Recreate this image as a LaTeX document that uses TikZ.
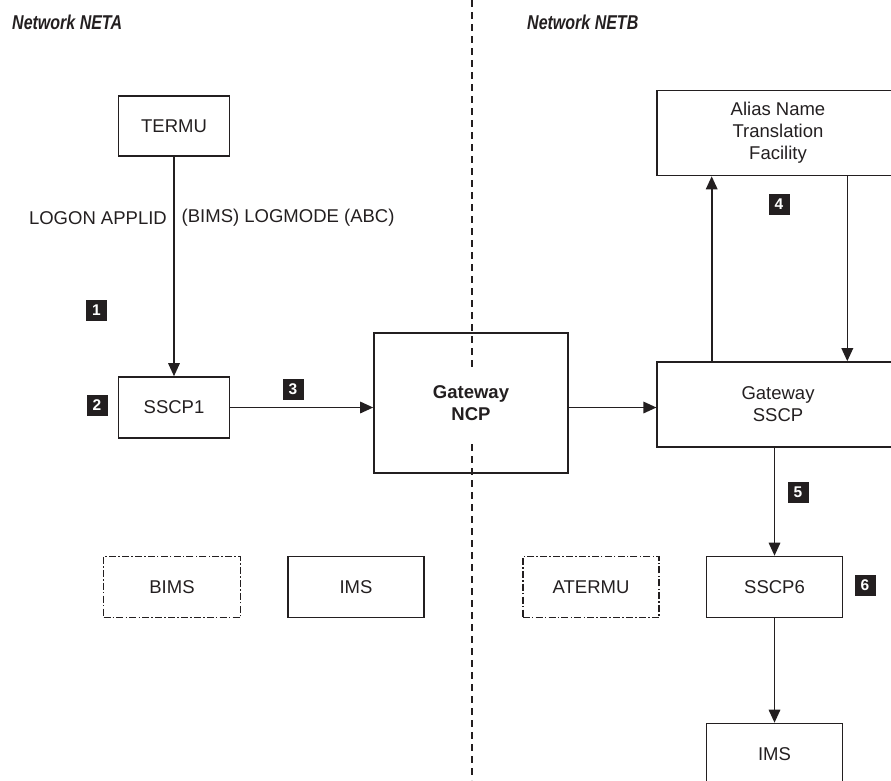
\documentclass[tikz,border=0pt]{standalone}
\usepackage{fontspec}
\setmainfont{Liberation Sans}
\newfontfamily\titlefont[FakeStretch=0.8]{Liberation Sans}
\usetikzlibrary{arrows.meta,calc}
\definecolor{ink}{HTML}{231F20}
\begin{document}
\begin{tikzpicture}[x=1pt,y=-1pt,
  every node/.style={text=ink},
  box/.style={draw=ink, line width=1.6pt, inner sep=0pt, font=\fontsize{18.5}{22}\selectfont, align=center},
  ddbox/.style={box, dash pattern=on 7pt off 2.2pt on 1.5pt off 2.2pt},
  arr/.style={draw=ink, line width=1.6pt, -{Triangle[length=13pt,width=11.5pt]}},
  badge/.style={fill=ink, text=white, minimum width=21pt, minimum height=21pt, inner sep=0pt, font=\fontsize{15.5}{16}\selectfont\bfseries},
  lbl/.style={font=\fontsize{18.5}{22}\selectfont, inner sep=0pt},
  ttl/.style={font=\titlefont\fontsize{20}{22}\selectfont\bfseries\itshape, inner sep=0pt, anchor=west},
  divider/.style={draw=ink, line width=1.3pt, dash pattern=on 7pt off 5pt}
]
\useasboundingbox (0,0) rectangle (891,780);
\clip (0,0) rectangle (891,780);

% divider
\coordinate (divtop) at (472,0);
\coordinate (divbot) at (472,780);
\draw[divider] (divtop) -- (divbot);

% titles
\node[ttl] (neta) at (12,22) {Network NETA};
\node[ttl] (netb) at (527,22) {Network NETB};

% boxes
\node[box, minimum width=111pt, minimum height=60pt] (termu) at (174,126) {TERMU};
\node[box, minimum width=111pt, minimum height=61pt] (sscp1) at (174,407.5) {SSCP1};
\node[box, minimum width=194pt, minimum height=140pt] (ncp) at (471,403) {};
\node[fill=white, inner xsep=4pt, inner ysep=0pt, minimum height=71pt, align=center,
      font=\fontsize{18.5}{22}\selectfont\bfseries] (ncplabel) at (471,403) {Gateway\\NCP};
\node[box, minimum width=241.5pt, minimum height=85pt] (gsscp) at (778,404.5) {Gateway\\SSCP};
\node[box, minimum width=241.5pt, minimum height=85pt] (alias) at (778,133) {Alias Name\\Translation\\Facility};
\node[box, minimum width=136pt, minimum height=61pt] (sscp6) at (774.5,587) {SSCP6};
\node[box, minimum width=136pt, minimum height=61pt] (imsb) at (774.5,754) {IMS};
\node[ddbox, minimum width=137pt, minimum height=61pt] (bims) at (172,587) {BIMS};
\node[box, minimum width=136pt, minimum height=61pt] (imsa) at (356,587) {IMS};
\node[ddbox, minimum width=136.5pt, minimum height=61pt] (atermu) at (591,587) {ATERMU};

% label on TERMU arrow
\node[lbl, anchor=east] (logon1) at (167,218) {LOGON APPLID};
\node[lbl, anchor=west] (logon2) at (181.5,218) {(BIMS) LOGMODE (ABC)};

% badges
\node[badge] (b1) at (96.5,310.5) {1};
\node[badge] (b2) at (97,405.5) {2};
\node[badge] (b3) at (293,389.5) {3};
\node[badge] (b4) at (779,204) {4};
\node[badge] (b5) at (798,492) {5};
\node[badge] (b6) at (865,585) {6};

% connectors
\coordinate (upx) at (711.7,0);
\coordinate (downx) at (847.3,0);
\draw[arr] (termu) -- (sscp1);
\draw[arr] (sscp1.east) -- (sscp1.east -| ncp.west);
\draw[arr] (sscp1.east -| ncp.east) -- (sscp1.east -| gsscp.west);
\draw[arr] (gsscp.north -| upx) -- (alias.south -| upx);
\draw[arr] (alias.south -| downx) -- (gsscp.north -| downx);
\draw[arr] (gsscp.south -| sscp6.north) -- (sscp6.north);
\draw[arr] (sscp6) -- (imsb);
\end{tikzpicture}
\end{document}
